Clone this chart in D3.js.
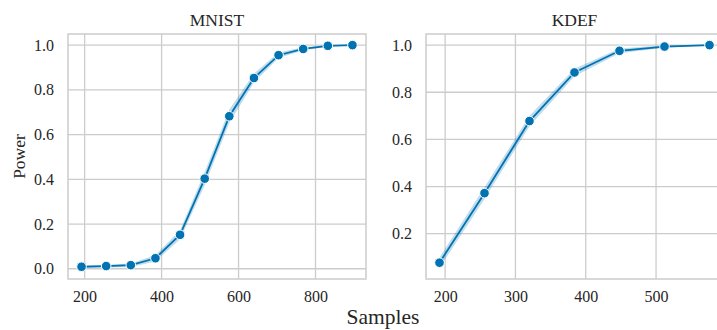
<!DOCTYPE html>
<html><head><meta charset="utf-8">
<script src="https://cdn.jsdelivr.net/npm/d3@7"></script>
<style>
html,body{margin:0;padding:0;background:#fff;}
svg{display:block;}
</style></head>
<body><svg id="chart" width="717" height="330"></svg>
<script>
const titles = ["MNIST", "KDEF"];
const mnistSamples = [192, 256, 320, 384, 448, 512, 576, 640, 704, 768, 832, 896];
const mnistPower   = [0.009, 0.012, 0.016, 0.047, 0.152, 0.403, 0.682, 0.853, 0.955, 0.983, 0.997, 1.0];
const mnistCI      = [0.005, 0.006, 0.008, 0.014, 0.02, 0.03, 0.03, 0.02, 0.012, 0.007, 0.003, 0.001];
const kdefSamples  = [192, 256, 320, 384, 448, 512, 576];
const kdefPower    = [0.077, 0.372, 0.678, 0.884, 0.976, 0.994, 1.0];
const kdefCI       = [0.022, 0.025, 0.022, 0.016, 0.01, 0.005, 0.001];
const mnistXTicks = [200, 400, 600, 800];
const mnistYTicks = [0.0, 0.2, 0.4, 0.6, 0.8, 1.0];
const kdefXTicks  = [200, 300, 400, 500];
const kdefYTicks  = [0.2, 0.4, 0.6, 0.8, 1.0];
const xLabel = "Samples", yLabel = "Power";

const FONT = "'Liberation Serif', 'Times New Roman', serif";
const svg = d3.select("#chart");
const blue = "#0173b2", grid = "#cccccc", ink = "#262626";
const plotTop = 34, plotBottom = 279;

const panels = [
  {title: titles[0], xs: mnistSamples, ys: mnistPower, ci: mnistCI, xt: mnistXTicks, yt: mnistYTicks, left: 68, right: 366},
  {title: titles[1], xs: kdefSamples, ys: kdefPower, ci: kdefCI, xt: kdefXTicks, yt: kdefYTicks, left: 426, right: 723}
];

function padded(lo, hi){ const d = hi - lo; return [lo - 0.05*d, hi + 0.05*d]; }

panels.forEach(p => {
  const data = p.xs.map((x,i) => ({x, y: p.ys[i], lo: p.ys[i]-p.ci[i], hi: Math.min(1.0, p.ys[i]+p.ci[i])}));
  const x = d3.scaleLinear().domain(padded(d3.min(p.xs), d3.max(p.xs))).range([p.left, p.right]);
  const y = d3.scaleLinear().domain(padded(d3.min(data, d=>d.lo), d3.max(data, d=>d.hi))).range([plotBottom, plotTop]);
  const g = svg.append("g");
  g.selectAll(".gx").data(p.xt).enter().append("line")
    .attr("x1", d=>x(d)).attr("x2", d=>x(d)).attr("y1", plotTop).attr("y2", plotBottom)
    .attr("stroke", grid).attr("stroke-width", 1.3);
  g.selectAll(".gy").data(p.yt).enter().append("line")
    .attr("y1", d=>y(d)).attr("y2", d=>y(d)).attr("x1", p.left).attr("x2", p.right)
    .attr("stroke", grid).attr("stroke-width", 1.3);
  g.append("rect").attr("x", p.left).attr("y", plotTop).attr("width", p.right-p.left).attr("height", plotBottom-plotTop)
    .attr("fill", "none").attr("stroke", grid).attr("stroke-width", 1.5);
  const xa = g.append("g").attr("transform", `translate(0,${plotBottom})`)
    .call(d3.axisBottom(x).tickValues(p.xt).tickFormat(d3.format("d")).tickSize(0).tickPadding(12));
  const ya = g.append("g").attr("transform", `translate(${p.left},0)`)
    .call(d3.axisLeft(y).tickValues(p.yt).tickFormat(d3.format(".1f")).tickSize(0).tickPadding(14));
  [xa, ya].forEach(a => {
    a.attr("font-family", null).attr("font-size", null);
    a.select(".domain").remove();
    a.selectAll("text").style("font-family", FONT).style("font-size", "16px").attr("fill", ink);
  });
  g.append("path").datum(data)
    .attr("d", d3.area().x(d=>x(d.x)).y0(d=>y(d.lo)).y1(d=>y(d.hi)))
    .attr("fill", blue).attr("fill-opacity", 0.25).attr("stroke", "none");
  g.append("path").datum(data)
    .attr("d", d3.line().x(d=>x(d.x)).y(d=>y(d.y)))
    .attr("fill", "none").attr("stroke", blue).attr("stroke-width", 1.8);
  g.selectAll(".pt").data(data).enter().append("circle")
    .attr("cx", d=>x(d.x)).attr("cy", d=>y(d.y)).attr("r", 4.8)
    .attr("fill", blue).attr("stroke", "#fff").attr("stroke-width", 1);
  g.append("text").attr("x", (p.left+p.right)/2).attr("y", 26).attr("text-anchor", "middle")
    .style("font-family", FONT).style("font-size", "17.5px").attr("fill", ink).text(p.title);
});

svg.append("text").attr("x", 383).attr("y", 324).attr("text-anchor", "middle")
  .style("font-family", FONT).style("font-size", "21.5px").attr("fill", ink).text(xLabel);
svg.append("text").attr("transform", `translate(25,${(plotTop+plotBottom)/2}) rotate(-90)`)
  .attr("text-anchor", "middle").style("font-family", FONT).style("font-size", "17.5px").attr("fill", ink).text(yLabel);
</script></body></html>
